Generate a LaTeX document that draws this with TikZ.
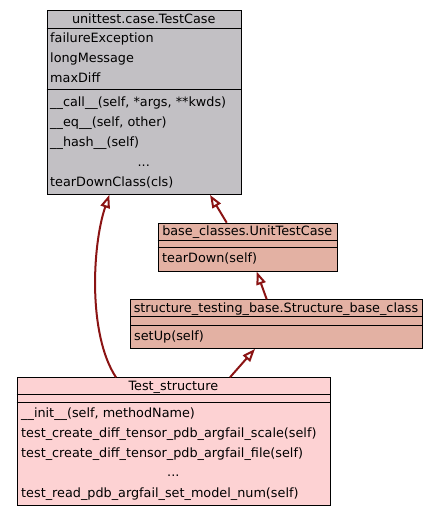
\documentclass[tikz,border=0pt]{standalone}
\usepackage{fontspec}
\setmainfont{DejaVu Sans}
\usetikzlibrary{arrows.meta,calc}
\definecolor{edgered}{RGB}{139,20,20}
\definecolor{greyfill}{RGB}{194,192,196}
\definecolor{salmonfill}{RGB}{227,177,163}
\definecolor{pinkfill}{RGB}{253,210,211}
\begin{document}
\begin{tikzpicture}[x=1pt,y=-1pt,
  box/.style={draw=black, line width=0.9pt, inner sep=0pt, anchor=north west},
  lbl/.style={anchor=base west, inner sep=0pt, font=\fontsize{12.8}{14}\selectfont},
  ttl/.style={anchor=base, inner sep=0pt, font=\fontsize{12.8}{14}\selectfont},
  sep/.style={draw=black, line width=0.9pt},
  inh/.style={draw=edgered, line width=2pt, -{Triangle[open, length=13pt, width=9.5pt, fill=white]}}]
\useasboundingbox (0,0) rectangle (437,516);

% unittest.case.TestCase
\node[box, fill=greyfill, minimum width=194.5pt, minimum height=184pt] (tc) at (46.5,10) {};
\draw[sep] (46.5,28) -- (241,28);
\draw[sep] (46.5,89.5) -- (241,89.5);
\node[ttl] (tct) at (143.75,23.5) {unittest.case.TestCase};
\node[lbl] (tca1) at (50,42.5) {failureException};
\node[lbl] (tca2) at (50,62.5) {longMessage};
\node[lbl] (tca3) at (50,82.5) {maxDiff};
\node[lbl] (tcm1) at (50,106.5) {\_\_call\_\_(self, *args, **kwds)};
\node[lbl] (tcm2) at (50,126.5) {\_\_eq\_\_(self, other)};
\node[lbl] (tcm3) at (50,146.5) {\_\_hash\_\_(self)};
\node[ttl] (tcm4) at (143.75,166.5) {...};
\node[lbl] (tcm5) at (50,186.5) {tearDownClass(cls)};

% base_classes.UnitTestCase
\node[box, fill=salmonfill, minimum width=179pt, minimum height=48pt] (ut) at (157.7,222.7) {};
\draw[sep] (157.7,240) -- (336.7,240);
\draw[sep] (157.7,247.7) -- (336.7,247.7);
\node[ttl] (utt) at (247.2,235.5) {base\_classes.UnitTestCase};
\node[lbl] (utm1) at (162,262.5) {tearDown(self)};

% structure_testing_base.Structure_base_class
\node[box, fill=salmonfill, minimum width=292pt, minimum height=48.7pt] (sb) at (130,299.3) {};
\draw[sep] (130,316.7) -- (422,316.7);
\draw[sep] (130,325) -- (422,325);
\node[ttl] (sbt) at (276,312.5) {structure\_testing\_base.Structure\_base\_class};
\node[lbl] (sbm1) at (134,340) {setUp(self)};

% Test_structure
\node[box, fill=pinkfill, minimum width=313.3pt, minimum height=127.7pt] (ts) at (16.7,377.3) {};
\draw[sep] (16.7,394.3) -- (330,394.3);
\draw[sep] (16.7,402.3) -- (330,402.3);
\node[ttl] (tst) at (173.35,390) {Test\_structure};
\node[lbl] (tsm1) at (21,417.2) {\_\_init\_\_(self, methodName)};
\node[lbl] (tsm2) at (21,437.2) {test\_create\_diff\_tensor\_pdb\_argfail\_scale(self)};
\node[lbl] (tsm3) at (21,457.2) {test\_create\_diff\_tensor\_pdb\_argfail\_file(self)};
\node[ttl] (tsm4) at (173.35,476.5) {...};
\node[lbl] (tsm5) at (21,497.2) {test\_read\_pdb\_argfail\_set\_model\_num(self)};

% connector end points
\coordinate (c1s) at ($(ts.north west)+(99.3,0)$);
\coordinate (c1e) at ($(tc.south west)+(62.8,0)$);
\coordinate (c2s) at ($(ut.north west)+(69,0)$);
\coordinate (c2e) at ($(tc.south west)+(163.5,0)$);
\coordinate (c3s) at ($(sb.north west)+(136.7,0)$);
\coordinate (c3e) at ($(ut.south west)+(99,0)$);
\coordinate (c4s) at ($(ts.north west)+(213.3,0)$);
\coordinate (c4e) at ($(sb.south west)+(125,0)$);

\draw[inh] (c1s) .. controls +(-28,-42.3) and +(-17.3,51) .. (c1e);
\draw[inh] (c2s) -- (c2e);
\draw[inh] (c3s) -- (c3e);
\draw[inh] (c4s) -- (c4e);
\end{tikzpicture}
\end{document}
